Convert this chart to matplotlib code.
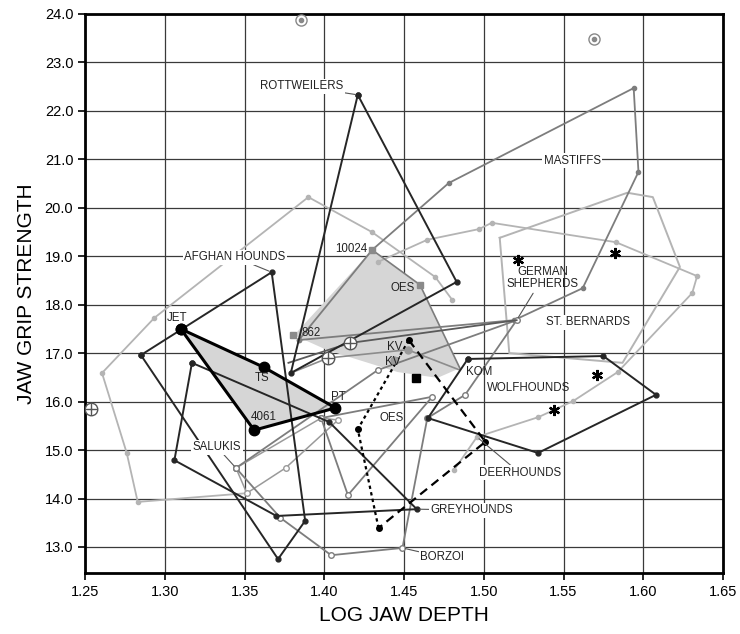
import matplotlib.pyplot as plt
import numpy as np

plt.rcParams['font.family'] = ['Liberation Sans', 'DejaVu Sans']

# ---- dark breed outlines (log jaw depth, jaw grip strength)
rott_x = [1.421, 1.483, 1.379]
rott_y = [22.33, 18.47, 16.59]
afghan_x = [1.285, 1.367, 1.388, 1.371]
afghan_y = [16.96, 18.67, 13.54, 12.75]
grey_x = [1.317, 1.403, 1.458, 1.370, 1.306]
grey_y = [16.80, 15.58, 13.78, 13.64, 14.79]
wolf_x = [1.490, 1.575, 1.608, 1.534, 1.465]
wolf_y = [16.88, 16.94, 16.14, 14.94, 15.66]

# ---- fossil specimens (thick black)
spec_names = ['JET', 'TS', 'PT', '4061']
spec_x = [1.310, 1.362, 1.407, 1.356]
spec_y = [17.50, 16.71, 15.87, 15.41]

# ---- dashed outline
kv_x = [1.453, 1.501, 1.434, 1.421]
kv_y = [17.27, 15.17, 13.39, 15.43]

# ---- shaded OES region
oes_x = [1.381, 1.430, 1.460, 1.485, 1.471, 1.446, 1.402]
oes_y = [17.37, 19.13, 18.41, 16.69, 16.49, 16.61, 17.06]

# ---- mid grey outlines
mast_x = [1.384, 1.430, 1.478, 1.594, 1.597, 1.562, 1.519]
mast_y = [17.27, 19.13, 20.51, 22.47, 20.74, 18.34, 17.68]
borzoi_x = [1.3446, 1.3725, 1.4043, 1.449, 1.4646, 1.4883, 1.5206, 1.4335]
borzoi_y = [14.63, 13.60, 12.83, 12.98, 15.66, 16.14, 17.68, 16.65]
oes_low_x = [1.398, 1.4677, 1.4148]
oes_low_y = [15.66, 16.10, 14.07]
link_a_x = [1.3775, 1.4161, 1.5206]
link_a_y = [16.80, 17.21, 17.68]
link_b_x = [1.379, 1.4024, 1.4522, 1.4851]
link_b_y = [16.59, 16.90, 17.07, 16.65]

# ---- light grey outlines
stb_x = [1.510, 1.590, 1.606, 1.623, 1.587, 1.516]
stb_y = [19.38, 20.31, 20.22, 18.78, 16.80, 17.00]
saluki_x = [1.3446, 1.398, 1.4086, 1.3757, 1.3514]
saluki_y = [14.63, 15.66, 15.62, 14.63, 14.11]
gsd_x = [1.4335, 1.4646, 1.497, 1.505, 1.5828, 1.6338, 1.6307, 1.584, 1.556, 1.5343, 1.4957, 1.4814]
gsd_y = [18.88, 19.34, 19.56, 19.69, 19.29, 18.59, 18.24, 16.61, 16.01, 15.68, 15.27, 14.59]
afl_x = [1.3514, 1.283, 1.2761, 1.2606, 1.2935, 1.390, 1.4298, 1.4696, 1.4802]
afl_y = [14.11, 13.93, 14.94, 16.59, 17.73, 20.22, 19.50, 18.57, 18.10]

# ---- individual symbols
star_x = [1.5212, 1.5822, 1.571, 1.5442]
star_y = [18.92, 19.07, 16.55, 15.83]
odot_x = [1.3856, 1.569]
odot_y = [23.88, 23.48]
oplus_x = [1.2537, 1.4024, 1.4161]
oplus_y = [15.85, 16.90, 17.21]
sq_x = [1.4298, 1.4603, 1.3806]
sq_y = [19.13, 18.41, 17.37]
kvpt_x = [1.4522, 1.4436]
kvpt_y = [17.07, 16.85]

dark = '#262626'
mid = '#7d7d7d'
light = '#b4b4b4'

fig = plt.figure(figsize=(7.4, 6.34), dpi=100)
ax = fig.add_axes([0.115, 0.096, 0.862, 0.882])


def closed(xs, ys):
    return list(xs) + [xs[0]], list(ys) + [ys[0]]


ax.fill(oes_x, oes_y, color='#d6d6d6', lw=0, zorder=1)
ax.fill(spec_x, spec_y, color='#d6d6d6', lw=0, zorder=1)

for xs, ys in [(afl_x, afl_y), (gsd_x, gsd_y)]:
    ax.plot(xs, ys, color=light, lw=1.3, marker='o', ms=3, zorder=2)
cx, cy = closed(stb_x, stb_y)
ax.plot(cx, cy, color=light, lw=1.4, zorder=2)
cx, cy = closed(saluki_x, saluki_y)
ax.plot(cx, cy, color='#9a9a9a', lw=1.1, marker='o', ms=4, mfc='white', zorder=3)

cx, cy = closed(mast_x, mast_y)
ax.plot(cx, cy, color=mid, lw=1.3, marker='o', ms=3, zorder=3)
cx, cy = closed(borzoi_x, borzoi_y)
ax.plot(cx, cy, color=mid, lw=1.3, marker='o', ms=4, mfc='white', zorder=3)
cx, cy = closed(oes_low_x, oes_low_y)
ax.plot(cx, cy, color=mid, lw=1.3, marker='o', ms=4, mfc='white', zorder=3)
ax.plot(oes_x[1:4], oes_y[1:4], color=mid, lw=1.2, zorder=3)
ax.plot(link_a_x, link_a_y, color='#5a5a5a', lw=1.3, zorder=3)
ax.plot(link_b_x, link_b_y, color='#8c8c8c', lw=1.2, zorder=3)

for xs, ys in [(rott_x, rott_y), (afghan_x, afghan_y), (grey_x, grey_y), (wolf_x, wolf_y)]:
    cx, cy = closed(xs, ys)
    ax.plot(cx, cy, color=dark, lw=1.4, marker='o', ms=3.5, zorder=4)

ax.plot(kv_x[:3], kv_y[:3], color='black', lw=1.6, ls=(0, (4, 2.5)), zorder=5)
ax.plot([kv_x[2], kv_x[3], kv_x[0]], [kv_y[2], kv_y[3], kv_y[0]],
        color='black', lw=1.6, ls=(0, (1.5, 1.5)), zorder=5)
ax.plot(kv_x, kv_y, ls='none', marker='o', ms=4, color='black', zorder=5)

cx, cy = closed(spec_x, spec_y)
ax.plot(cx, cy, color='black', lw=2.2, marker='o', ms=7.5, zorder=6)

ax.plot(star_x, star_y, ls='none', marker=(6, 2, 0), ms=8, mew=1.6, color='black', zorder=6)
ax.plot(odot_x, odot_y, ls='none', marker='o', ms=8, mfc='white', mec='#888888', zorder=6)
ax.plot(odot_x, odot_y, ls='none', marker='o', ms=3, color='#888888', zorder=6)
ax.plot(oplus_x, oplus_y, ls='none', marker='o', ms=9, mfc='white', mec='#555555', zorder=6)
ax.plot(oplus_x, oplus_y, ls='none', marker='+', ms=9, mec='#555555', zorder=6)
ax.plot(sq_x, sq_y, ls='none', marker='s', ms=5, color='#8a8a8a', zorder=6)
ax.plot(kvpt_x, kvpt_y, ls='none', marker='o', ms=5, color='#9a9a9a', zorder=6)
ax.plot([1.4578], [16.49], ls='none', marker='s', ms=6, color='black', zorder=6)

bb = dict(facecolor='white', edgecolor='none', pad=1.2)
lab = dict(fontsize=8.3, ha='center', va='center', zorder=7, color='#222222')
lead = dict(arrowstyle='-', color='#555555', lw=0.8, shrinkA=0, shrinkB=2)

# breed labels with short leader lines to a vertex
ax.annotate('ROTTWEILERS', xy=(rott_x[0], rott_y[0]), xytext=(1.3856, 22.51),
            bbox=bb, arrowprops=lead, **lab)
ax.annotate('AFGHAN HOUNDS', xy=(afghan_x[1], afghan_y[1]), xytext=(1.344, 18.98),
            bbox=bb, arrowprops=lead, **lab)
ax.annotate('GERMAN\nSHEPHERDS', xy=(borzoi_x[6], borzoi_y[6]), xytext=(1.5368, 18.55),
            linespacing=1.1, arrowprops=lead, **lab)
ax.annotate('DEERHOUNDS', xy=(gsd_x[10], gsd_y[10]), xytext=(1.5225, 14.53),
            bbox=bb, arrowprops=lead, **lab)
ax.annotate('GREYHOUNDS', xy=(grey_x[2], grey_y[2]), xytext=(1.4926, 13.76),
            bbox=bb, arrowprops=lead, **lab)
ax.annotate('BORZOI', xy=(borzoi_x[3], borzoi_y[3]), xytext=(1.474, 12.79),
            bbox=bb, arrowprops=lead, **lab)
ax.annotate('SALUKIS', xy=(saluki_x[0], saluki_y[0]), xytext=(1.3327, 15.06),
            bbox=bb, arrowprops=lead, **lab)
ax.text(1.5554, 20.97, 'MASTIFFS', bbox=bb, **lab)
ax.text(1.5654, 17.64, 'ST. BERNARDS', bbox=bb, **lab)
ax.text(1.528, 16.28, 'WOLFHOUNDS', **lab)
ax.text(1.4167, 19.15, '10024', **lab)
ax.text(1.449, 18.34, 'OES', **lab)
ax.text(1.3918, 17.42, '862', **lab)
ax.text(1.444, 17.13, 'KV', **lab)
ax.text(1.4428, 16.82, 'KV', **lab)
ax.text(1.497, 16.61, 'KOM', **lab)
ax.text(1.4422, 15.66, 'OES', **lab)
ax.text(1.3079, 17.73, spec_names[0], **lab)
ax.text(1.3607, 16.49, spec_names[1], **lab)
ax.text(1.4086, 16.10, spec_names[2], **lab)
ax.text(1.362, 15.68, spec_names[3], **lab)

ax.set_xlim(1.25, 1.65)
ax.set_ylim(12.46, 24.0)
ax.set_xticks(np.arange(1.25, 1.651, 0.05))
ax.set_yticks(np.arange(13.0, 24.01, 1.0))
ax.xaxis.set_major_formatter(plt.FormatStrFormatter('%.2f'))
ax.yaxis.set_major_formatter(plt.FormatStrFormatter('%.1f'))
ax.grid(True, color='#3a3a3a', lw=0.9, zorder=0)
ax.set_axisbelow(True)
for s in ax.spines.values():
    s.set_linewidth(2.0)
ax.tick_params(direction='out', length=5, width=1.2, labelsize=10.5)
ax.set_xlabel('LOG JAW DEPTH', fontsize=15, labelpad=5)
ax.set_ylabel('JAW GRIP STRENGTH', fontsize=15, labelpad=6)

fig.savefig('out.png', dpi=100)
